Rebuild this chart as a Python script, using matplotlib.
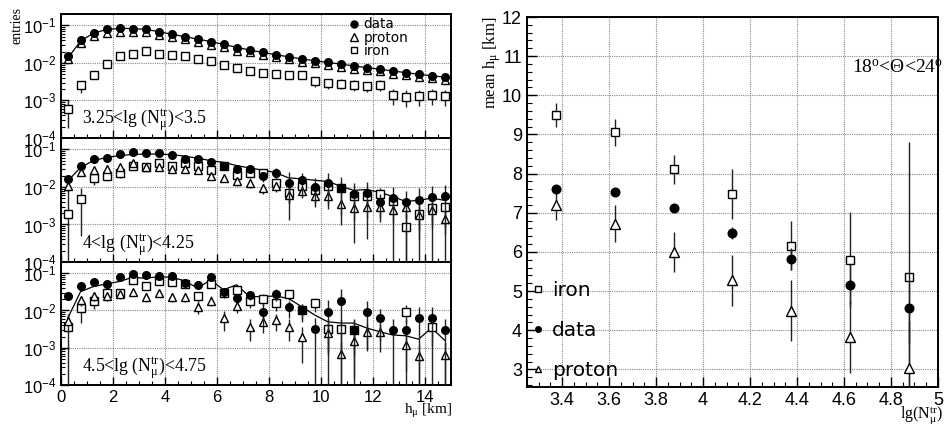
import numpy as np
import matplotlib
matplotlib.use('Agg')
import matplotlib.pyplot as plt
import matplotlib.ticker as ticker
from matplotlib.lines import Line2D

plt.rcParams['font.family'] = ['Liberation Sans', 'DejaVu Sans']
plt.rcParams['mathtext.fontset'] = 'custom'
plt.rcParams['mathtext.rm'] = 'Liberation Serif'
plt.rcParams['mathtext.it'] = 'Liberation Serif:italic'
plt.rcParams['mathtext.bf'] = 'Liberation Serif:bold'

# ---- left: h_mu distributions, bin centres in km ----
h = np.arange(0.25, 15.0, 0.5)
nan = np.nan

p1_data = [0.015, 0.040, 0.063, 0.078, 0.083, 0.081, 0.078, 0.066, 0.057, 0.050,
           0.042, 0.036, 0.031, 0.025, 0.022, 0.019, 0.0166, 0.0144, 0.0127, 0.0115,
           0.0103, 0.0095, 0.0081, 0.0074, 0.0069, 0.0060, 0.0055, 0.0051, 0.0045, 0.0042]
p1_data_err = [0.06, 0.04, 0.03, 0.03, 0.03, 0.03, 0.03, 0.03, 0.03, 0.04,
               0.04, 0.04, 0.05, 0.05, 0.05, 0.06, 0.06, 0.07, 0.07, 0.08,
               0.08, 0.08, 0.09, 0.09, 0.1, 0.1, 0.11, 0.11, 0.12, 0.12]
p1_proton = [0.013, 0.034, 0.053, 0.064, 0.068, 0.068, 0.065, 0.056, 0.048, 0.042,
             0.036, 0.030, 0.026, 0.021, 0.019, 0.016, 0.014, 0.0123, 0.0108, 0.0098,
             0.0088, 0.0080, 0.0070, 0.0063, 0.0059, 0.0052, 0.0047, 0.0043, 0.0039, 0.0036]
p1_proton_err = [0.1, 0.06, 0.05, 0.05, 0.05, 0.05, 0.05, 0.05, 0.06, 0.06,
                 0.07, 0.07, 0.08, 0.09, 0.1, 0.1, 0.11, 0.12, 0.12, 0.13,
                 0.14, 0.15, 0.16, 0.17, 0.17, 0.18, 0.2, 0.2, 0.21, 0.22]
p1_iron = [0.00061, 0.0025, 0.0048, 0.0095, 0.015, 0.0177, 0.0204, 0.0177, 0.0166, 0.0156,
           0.0127, 0.0115, 0.0088, 0.0073, 0.0062, 0.0055, 0.0051, 0.0047, 0.0047, 0.0032,
           0.0029, 0.0028, 0.0026, 0.0024, 0.0026, 0.0014, 0.00126, 0.0013, 0.0014, 0.0013]
p1_iron_err = [0.7, 0.35, 0.22, 0.15, 0.12, 0.1, 0.1, 0.1, 0.1, 0.11,
               0.12, 0.13, 0.15, 0.17, 0.18, 0.19, 0.2, 0.21, 0.21, 0.28,
               0.29, 0.3, 0.31, 0.32, 0.31, 0.45, 0.47, 0.46, 0.45, 0.46]
p1_line = [0.013, 0.038, 0.062, 0.077, 0.083, 0.082, 0.078, 0.068, 0.058, 0.050,
           0.043, 0.037, 0.031, 0.026, 0.022, 0.019, 0.0165, 0.0145, 0.0128, 0.0114,
           0.0103, 0.0093, 0.0083, 0.0075, 0.0068, 0.0061, 0.0055, 0.0050, 0.0045, 0.0042]

p2_data = [0.016, 0.037, 0.056, 0.060, 0.073, 0.085, 0.081, 0.081, 0.069, 0.056,
           0.054, 0.046, 0.037, 0.030, 0.030, 0.019, 0.024, 0.013, 0.015, 0.010,
           0.0128, 0.0094, 0.0066, 0.0069, 0.0039, 0.0050, 0.0039, 0.0046, 0.0053, 0.0056]
p2_data_err = [0.1, 0.08, 0.07, 0.07, 0.06, 0.06, 0.06, 0.06, 0.07, 0.08,
               0.08, 0.1, 0.12, 0.15, 0.15, 0.3, 0.3, 0.9, 0.6, 0.7,
               0.8, 0.9, 0.95, 0.94, 0.7, 1.0, 1.0, 1.0, 1.0, 1.0]
p2_proton = [0.0105, 0.025, 0.029, 0.030, 0.034, 0.044, 0.034, 0.034, 0.030, 0.030,
             0.028, 0.019, 0.017, 0.014, 0.013, 0.0093, 0.0105, 0.0062, 0.0076, 0.0059,
             0.0056, 0.0036, 0.0027, 0.0029, 0.0029, 0.0025, 0.0030, 0.0018, 0.0025, 0.0014]
p2_proton_err = [0.3, 0.2, 0.18, 0.18, 0.15, 0.13, 0.15, 0.15, 0.16, 0.16,
                 0.17, 0.2, 0.22, 0.25, 0.26, 0.3, 0.3, 0.4, 0.35, 0.4,
                 0.4, 0.5, 0.55, 0.5, 0.5, 0.55, 0.5, 0.6, 0.55, 0.6]
p2_iron = [0.0019, 0.0049, 0.017, 0.020, 0.024, 0.037, 0.034, 0.044, 0.037, 0.044,
           0.035, 0.028, 0.037, 0.021, 0.024, 0.024, 0.0128, 0.0069, 0.0105, 0.0081,
           0.0105, 0.0094, 0.0056, 0.0056, 0.0066, 0.0041, 0.00087, 0.0019, 0.0027, 0.0029]
p2_iron_err = [4.0, 0.9, 0.35, 0.3, 0.28, 0.2, 0.2, 0.18, 0.2, 0.18,
               0.2, 0.22, 0.2, 0.28, 0.26, 0.26, 0.35, 0.45, 0.4, 0.42,
               0.4, 0.42, 0.5, 0.5, 0.45, 0.55, 1.2, 0.8, 0.7, 0.7]
p2_line = [0.014, 0.033, 0.050, 0.061, 0.068, 0.073, 0.075, 0.075, 0.072, 0.066,
           0.058, 0.050, 0.045, 0.037, 0.032, 0.028, 0.024, 0.0174, 0.0164, 0.015,
           0.014, 0.0105, 0.0081, 0.0085, 0.0072, 0.0056, 0.0041, 0.0044, 0.0050, 0.0044]

p3_data = [0.0245, 0.046, 0.060, 0.052, 0.078, 0.096, 0.090, 0.085, 0.085, 0.056,
           0.049, 0.078, 0.031, 0.021, 0.026, 0.0093, 0.028, 0.0123, 0.010, 0.0032,
           0.0093, 0.0185, 0.0030, 0.0093, 0.0062, 0.0030, 0.0030, 0.0062, 0.0062, 0.0030]
p3_data_err = [0.2, 0.15, 0.13, 0.14, 0.12, 0.1, 0.1, 0.11, 0.11, 0.14,
               0.15, 0.12, 0.2, 0.25, 0.25, 0.6, 0.35, 0.5, 0.5, 1.0,
               1.0, 1.0, 1.0, 0.9, 0.75, 1.0, 1.0, 1.0, 1.0, 1.0]
p3_proton = [0.0052, 0.019, 0.0245, 0.024, 0.028, 0.032, 0.023, 0.029, 0.023, 0.023,
             0.0127, 0.0185, 0.0062, 0.0133, 0.0037, 0.005, 0.0055, 0.0037, 0.002, nan,
             0.0025, 0.0007, 0.0015, 0.0027, 0.0026, nan, 0.0012, 0.0006, nan, 0.00065]
p3_proton_err = [0.5, 0.3, 0.25, 0.25, 0.22, 0.2, 0.25, 0.22, 0.25, 0.25,
                 0.35, 0.3, 0.55, 0.35, 0.6, 0.5, 0.5, 0.6, 0.8, nan,
                 0.7, 1.0, 0.9, 0.7, 0.7, nan, 0.8, 1.0, nan, 1.0]
p3_iron = [0.0037, 0.0115, 0.0185, 0.030, 0.029, 0.066, 0.046, 0.063, 0.060, 0.052,
           0.0245, 0.052, 0.030, 0.036, 0.0185, 0.020, 0.0158, 0.028, 0.0105, 0.0155,
           0.0032, 0.0032, 0.0030, nan, nan, nan, 0.0093, nan, 0.0037, nan]
p3_iron_err = [1.2, 0.6, 0.4, 0.3, 0.3, 0.2, 0.22, 0.2, 0.2, 0.22,
               0.3, 0.22, 0.3, 0.28, 0.35, 0.35, 0.38, 0.3, 0.45, 0.4,
               0.8, 0.8, 0.8, nan, nan, nan, 0.5, nan, 0.7, nan]
p3_line = [0.006, 0.032, 0.044, 0.052, 0.060, 0.078, 0.073, 0.081, 0.078, 0.063,
           0.040, 0.066, 0.036, 0.049, 0.0236, 0.0236, 0.0245, 0.021, 0.0127, 0.0076,
           0.0050, 0.0046, 0.0046, 0.0034, 0.0027, 0.0022, 0.0021, 0.0017, 0.0034, 0.0016]

panel_text = [r'3.25<lg (N$_{\mathrm{\mu}}^{\mathrm{tr}}$)<3.5',
              r'4<lg (N$_{\mathrm{\mu}}^{\mathrm{tr}}$)<4.25',
              r'4.5<lg (N$_{\mathrm{\mu}}^{\mathrm{tr}}$)<4.75']

# ---- right: mean h_mu vs lg(N_mu^tr) ----
lgn = [3.375, 3.625, 3.875, 4.125, 4.375, 4.625, 4.875]
mean_data = [7.6, 7.53, 7.12, 6.48, 5.82, 5.16, 4.56]
mean_data_err = [0.05, 0.07, 0.1, 0.15, 0.27, 0.5, 0.9]
mean_proton = [7.2, 6.72, 6.0, 5.27, 4.5, 3.83, 3.04]
mean_proton_err = [0.38, 0.47, 0.52, 0.64, 0.78, 0.92, 1.2]
mean_iron = [9.5, 9.05, 8.11, 7.48, 6.16, 5.8, 5.37]
mean_iron_err = [0.3, 0.34, 0.37, 0.63, 0.62, 1.23, 3.44]

serif = 'Liberation Serif'
grid_kw = dict(color='#8a8a8a', linestyle=(0, (1, 1)), linewidth=0.8)


def log_err(vals, rel):
    v = np.array(vals, dtype=float)
    e = v * np.array(rel, dtype=float)
    low = v - np.maximum(v - e, 1e-6)
    return v, [low, e]


fig = plt.figure(figsize=(9.46, 4.24), dpi=100)

rects = [[0.0645, 0.6745, 0.4123, 0.2925],
         [0.0645, 0.382, 0.4123, 0.2925],
         [0.0645, 0.092, 0.4123, 0.290]]
panels = [(p1_data, p1_data_err, p1_proton, p1_proton_err, p1_iron, p1_iron_err, p1_line),
          (p2_data, p2_data_err, p2_proton, p2_proton_err, p2_iron, p2_iron_err, p2_line),
          (p3_data, p3_data_err, p3_proton, p3_proton_err, p3_iron, p3_iron_err, p3_line)]

for i, (rect, pan) in enumerate(zip(rects, panels)):
    ax = fig.add_axes(rect)
    d, de, p, pe, fe, fee, ln = pan
    ax.plot(h, ln, color='black', lw=0.9, zorder=2)
    v, e = log_err(fe, fee)
    ax.errorbar(h, v, yerr=e, fmt='s', ms=5.2, mfc='white', mec='black', mew=1.0,
                ecolor='#222222', elinewidth=1.0, capsize=0, zorder=3)
    v, e = log_err(p, pe)
    ax.errorbar(h, v, yerr=e, fmt='^', ms=6, mfc='white', mec='black', mew=1.0,
                ecolor='#222222', elinewidth=1.0, capsize=0, zorder=4)
    v, e = log_err(d, de)
    ax.errorbar(h, v, yerr=e, fmt='o', ms=5.5, mfc='black', mec='black',
                ecolor='#222222', elinewidth=1.0, capsize=0, zorder=5)
    ax.set_yscale('log')
    ax.set_xlim(0, 15)
    ax.set_ylim(1e-4, 0.2)
    ax.grid(True, which='major', **grid_kw)
    ax.xaxis.set_major_locator(ticker.MultipleLocator(2))
    ax.xaxis.set_minor_locator(ticker.MultipleLocator(0.5))
    ax.yaxis.set_major_locator(ticker.LogLocator(base=10, numticks=10))
    ax.yaxis.set_minor_locator(ticker.LogLocator(base=10, subs=np.arange(2, 10), numticks=10))
    ax.yaxis.set_minor_formatter(ticker.NullFormatter())
    ax.tick_params(which='both', direction='in', top=False, right=False, labelsize=12)
    ax.tick_params(which='major', length=6, width=1)
    ax.tick_params(which='minor', length=3, width=0.8)
    if i < 2:
        ax.tick_params(labelbottom=False)
    for s in ax.spines.values():
        s.set_linewidth(1.4)
    ax.text(0.054, 0.14, panel_text[i], transform=ax.transAxes, fontsize=12.8,
            family=serif, va='center', ha='left')
    if i == 0:
        hd = [Line2D([], [], marker='o', color='black', ls='none', ms=5),
              Line2D([], [], marker='^', mfc='white', mec='black', ls='none', ms=5.5),
              Line2D([], [], marker='s', mfc='white', mec='black', ls='none', ms=5)]
        ax.legend(hd, ['data', 'proton', 'iron'], loc='upper left',
                  bbox_to_anchor=(0.715, 1.05), frameon=False,
                  prop={'family': 'DejaVu Sans', 'size': 9.8},
                  handlelength=0.6, handletextpad=0.45, labelspacing=-0.05,
                  borderpad=0.2)

fig.text(0.018, 0.94, 'entries', rotation=90, family=serif, fontsize=10,
         ha='center', va='center')
fig.text(0.478, 0.03, r'h$_{\mathrm{\mu}}$ [km]', family=serif, fontsize=11,
         ha='right', va='center')

# right panel
ax = fig.add_axes([0.557, 0.0873, 0.4345, 0.8726])
ax.errorbar(lgn, mean_iron, yerr=mean_iron_err, fmt='s', ms=6.2, mfc='white',
            mec='black', mew=1.0, ecolor='#222222', elinewidth=1.0, capsize=0, zorder=3)
ax.errorbar(lgn, mean_proton, yerr=mean_proton_err, fmt='^', ms=7, mfc='white',
            mec='black', mew=1.0, ecolor='#222222', elinewidth=1.0, capsize=0, zorder=4)
ax.errorbar(lgn, mean_data, yerr=mean_data_err, fmt='o', ms=6.2, mfc='black',
            mec='black', ecolor='#222222', elinewidth=1.0, capsize=0, zorder=5)
ax.set_xlim(3.25, 5.0)
ax.set_ylim(2.55, 12)
ax.grid(True, which='major', **grid_kw)
ax.xaxis.set_major_locator(ticker.MultipleLocator(0.2))
ax.xaxis.set_minor_locator(ticker.MultipleLocator(0.05))
ax.yaxis.set_major_locator(ticker.MultipleLocator(1))
ax.yaxis.set_minor_locator(ticker.MultipleLocator(0.2))
ax.xaxis.set_major_formatter(ticker.FuncFormatter(lambda x, p: '%g' % round(x, 2)))
ax.tick_params(which='both', direction='in', top=False, right=False, labelsize=13)
ax.tick_params(which='major', length=7, width=1)
ax.tick_params(which='minor', length=3.5, width=0.8)
for s in ax.spines.values():
    s.set_linewidth(1.4)
ax.text(0.79, 0.862, r'18$^{\mathrm{o}}$<Θ<24$^{\mathrm{o}}$', transform=ax.transAxes,
        family=serif, fontsize=14, ha='left', va='center')
hd = [Line2D([], [], marker='s', mfc='white', mec='black', ls='none', ms=4),
      Line2D([], [], marker='o', color='black', ls='none', ms=4),
      Line2D([], [], marker='^', mfc='white', mec='black', ls='none', ms=4.5)]
ax.legend(hd, ['iron', 'data', 'proton'], loc='lower left', bbox_to_anchor=(-0.022, -0.02),
          frameon=False, prop={'family': 'DejaVu Sans', 'size': 14.5},
          handlelength=0.6, handletextpad=0.4, labelspacing=1.05, borderpad=0.2)

fig.text(0.52, 0.96, r'mean h$_{\mathrm{\mu}}$ [km]', rotation=90, family=serif,
         fontsize=12, ha='center', va='top')
fig.text(0.997, 0.022, r'lg(N$_{\mathrm{\mu}}^{\mathrm{tr}}$)', family=serif,
         fontsize=11.5, ha='right', va='center')

fig.savefig('out.png', dpi=100)
